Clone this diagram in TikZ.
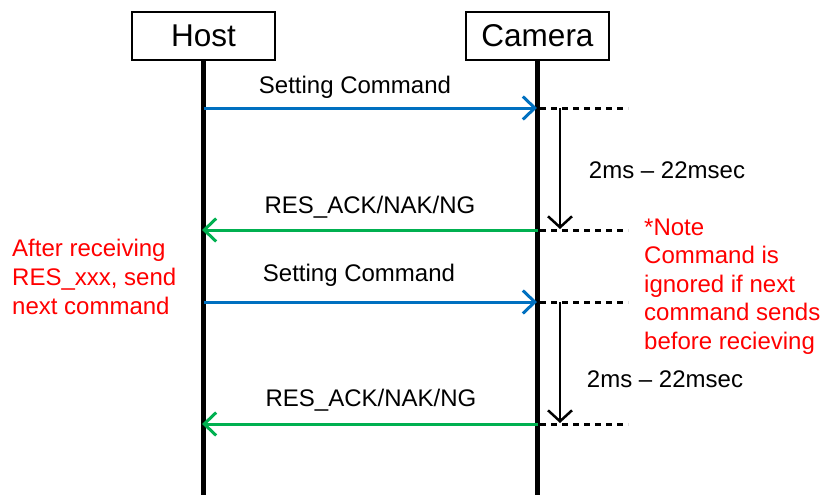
\documentclass[tikz,border=0pt]{standalone}
\usepackage{fontspec}
\setmainfont{Liberation Sans}
\usetikzlibrary{arrows.meta}
\definecolor{msgblue}{RGB}{0,112,192}
\definecolor{msggreen}{RGB}{0,176,80}
\definecolor{notered}{RGB}{255,0,0}
\begin{document}
\begin{tikzpicture}[x=1pt,y=-1pt,
  actor/.style={draw=black,line width=2pt,minimum width=143pt,minimum height=48pt,inner sep=0pt,font=\fontsize{31.5}{36}\selectfont},
  lifeline/.style={line width=5pt},
  msg/.style={line width=3pt,-{Straight Barb[length=12pt,width=23pt,line width=3pt]}},
  lbl/.style={anchor=base,inner sep=0pt,font=\fontsize{24}{28.5}\selectfont},
  rlbl/.style={anchor=base west,inner sep=0pt,text=notered,font=\fontsize{24}{28.5}\selectfont},
  tick/.style={line width=3pt,dash pattern=on 6pt off 5pt},
  dur/.style={line width=2.5pt,-{Straight Barb[length=11pt,width=24pt,line width=2.5pt]}}
]
\useasboundingbox (0,0) rectangle (821,495);
\node[actor] (host) at (203.5,36) {Host};
\node[actor,minimum width=143pt] (cam) at (537.5,36) {Camera};
\coordinate (hb) at (203.5,495);
\coordinate (cb) at (537.5,495);
\draw[lifeline] (host.south) -- (hb);
\draw[lifeline] (cam.south) -- (cb);
% message anchors
\coordinate (h1) at (203.5,108); \coordinate (c1) at (537,108);
\coordinate (h2) at (202,230);   \coordinate (c2) at (537.5,230);
\coordinate (h3) at (203.5,302); \coordinate (c3) at (537,302);
\coordinate (h4) at (202,424);   \coordinate (c4) at (537.5,424);
\draw[msg,msgblue] (h1) -- (c1);
\draw[msg,msggreen] (c2) -- (h2);
\draw[msg,msgblue] (h3) -- (c3);
\draw[msg,msggreen] (c4) -- (h4);
\node[lbl] (l1) at (355,93) {Setting Command};
\node[lbl] (l2) at (370,213) {RES\_ACK/NAK/NG};
\node[lbl] (l3) at (359,281) {Setting Command};
\node[lbl] (l4) at (371,406) {RES\_ACK/NAK/NG};
% ticks
\coordinate (t1a) at (540,108); \coordinate (t1b) at (628,108);
\coordinate (t2a) at (540,230); \coordinate (t2b) at (628,230);
\coordinate (t3a) at (540,302); \coordinate (t3b) at (628,302);
\coordinate (t4a) at (540,424); \coordinate (t4b) at (628,424);
\draw[tick] (t1a) -- (t1b);
\draw[tick] (t2a) -- (t2b);
\draw[tick] (t3a) -- (t3b);
\draw[tick] (t4a) -- (t4b);
\coordinate (d1a) at (560,108); \coordinate (d1b) at (560,229);
\coordinate (d2a) at (560,302); \coordinate (d2b) at (560,423);
\draw[dur] (d1a) -- (d1b);
\draw[dur] (d2a) -- (d2b);
\node[lbl] (dl1) at (667,178) {2ms – 22msec};
\node[lbl] (dl2) at (665,387) {2ms – 22msec};
% red notes
\node[rlbl] (n1) at (644,235) {*Note};
\node[rlbl] (n2) at (644,263.5) {Command is};
\node[rlbl] (n3) at (644,292) {ignored if next};
\node[rlbl] (n4) at (644,320.5) {command sends};
\node[rlbl] (n5) at (644,349) {before recieving};
\node[rlbl] (a1) at (12,256) {After receiving};
\node[rlbl] (a2) at (12,285) {RES\_xxx, send};
\node[rlbl] (a3) at (12,314) {next command};
\end{tikzpicture}
\end{document}
